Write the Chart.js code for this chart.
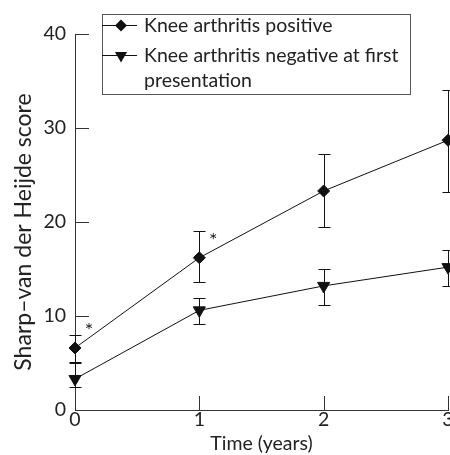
<!DOCTYPE html>
<html>
<head>
<meta charset="utf-8">
<script src="https://cdn.jsdelivr.net/npm/chart.js@4"></script>
<style>
  html, body { margin: 0; padding: 0; background: #fff; }
  #wrap { width: 450px; height: 455px; }
</style>
</head>
<body>
<div id="wrap"><canvas id="chart" width="450" height="455"></canvas></div>
<script>
const years = [0, 1, 2, 3];
const posMean = [6.6, 16.2, 23.3, 28.7];
const posLow = [5.1, 13.6, 19.5, 23.2];
const posHigh = [8.0, 19.0, 27.2, 34.0];
const negMean = [3.3, 10.6, 13.2, 15.2];
const negLow = [2.5, 9.2, 11.2, 13.2];
const negHigh = [5.0, 11.9, 15.0, 17.0];
const sigYears = [0, 1];
const yTicks = [0, 10, 20, 30, 40];
const seriesNames = ["Knee arthritis positive", ["Knee arthritis negative at first", "presentation"]];
const xTitle = "Time (years)";
const yTitle = "Sharp–van der Heijde score";

const FONT = "Lato";

// error bars, inner tick marks, x labels, asterisks, axis titles
const extras = {
  id: "extras",
  afterDatasetsDraw(chart) {
    const c = chart.ctx;
    const x = chart.scales.x, y = chart.scales.y;
    c.save();
    c.strokeStyle = "#111";
    c.lineWidth = 1;
    const bars = (lo, hi) => {
      years.forEach((yr, i) => {
        const px = Math.round(x.getPixelForValue(yr)) + 0.5;
        const t = Math.round(y.getPixelForValue(hi[i])) + 0.5, b = Math.round(y.getPixelForValue(lo[i])) + 0.5;
        c.beginPath();
        c.moveTo(px, t); c.lineTo(px, b);
        c.moveTo(px - 6, t); c.lineTo(px + 6, t);
        c.moveTo(px - 6, b); c.lineTo(px + 6, b);
        c.stroke();
      });
    };
    bars(posLow, posHigh);
    bars(negLow, negHigh);

    // tick marks drawn inward
    c.strokeStyle = "#333";
    yTicks.slice(1).forEach(v => {
      const py = Math.round(y.getPixelForValue(v)) + 0.5;
      c.beginPath(); c.moveTo(x.left, py); c.lineTo(x.left + 14, py); c.stroke();
    });
    years.slice(1).forEach(v => {
      const px = Math.round(x.getPixelForValue(v)) + 0.5;
      c.beginPath(); c.moveTo(px, y.bottom); c.lineTo(px, y.bottom - 14); c.stroke();
    });

    c.fillStyle = "#222";
    c.textAlign = "center";
    c.textBaseline = "middle";
    c.font = "19.5px " + FONT;
    years.forEach(v => c.fillText(String(v), x.getPixelForValue(v), y.bottom + 10));
    c.fillText(xTitle, (x.left + x.right) / 2, y.bottom + 34);

    c.font = "20px " + FONT;
    sigYears.forEach(yr => {
      const i = years.indexOf(yr);
      c.fillText("*", x.getPixelForValue(yr) + 14, y.getPixelForValue(posMean[i]) - 17);
    });

    c.font = "23px " + FONT;
    c.translate(24, 232);
    c.rotate(-Math.PI / 2);
    c.fillText(yTitle, 0, 0);
    c.restore();
  },
  afterDraw(chart) {
    // legend box
    const c = chart.ctx;
    c.save();
    c.strokeStyle = "#555";
    c.lineWidth = 1;
    c.strokeRect(102.5, 14.5, 308, 80);
    const rows = [25, 55];
    chart.data.datasets.forEach((ds, i) => {
      const ry = rows[i] + 0.5;
      c.strokeStyle = "#111";
      c.fillStyle = "#111";
      c.beginPath(); c.moveTo(102, ry); c.lineTo(137, ry); c.stroke();
      Chart.helpers.drawPoint(c, { pointStyle: ds.pointStyle, radius: ds.pointRadius, rotation: ds.rotation || 0 }, 121, ry);
      c.fillStyle = "#222";
      c.font = "19.5px " + FONT;
      c.textBaseline = "middle";
      c.textAlign = "left";
      const lines = [].concat(seriesNames[i]);
      lines.forEach((t, k) => c.fillText(t, 144, rows[i] + 1 + k * 25));
    });
    c.restore();
  }
};

new Chart(document.getElementById("chart"), {
  type: "line",
  data: {
    datasets: [
      {
        label: "Knee arthritis positive",
        data: years.map((yr, i) => ({ x: yr, y: posMean[i] })),
        borderColor: "#111", backgroundColor: "#111", borderWidth: 1, clip: false,
        pointStyle: "rectRot", pointRadius: 6, pointHoverRadius: 6
      },
      {
        label: "Knee arthritis negative at first presentation",
        data: years.map((yr, i) => ({ x: yr, y: negMean[i] })),
        borderColor: "#111", backgroundColor: "#111", borderWidth: 1, clip: false,
        pointStyle: "triangle", rotation: 180, pointRadius: 7, pointHoverRadius: 7
      }
    ]
  },
  options: {
    responsive: false,
    animation: false,
    events: [],
    layout: { autoPadding: false, padding: { top: 34, right: 2, left: 0, bottom: 0 } },
    plugins: { legend: { display: false }, tooltip: { enabled: false } },
    scales: {
      x: {
        type: "linear", min: 0, max: 3,
        afterFit(s) { s.height = 45; },
        grid: { display: false, drawTicks: false },
        border: { display: true, color: "#333", width: 1 },
        afterBuildTicks(s) { s.ticks = years.map(v => ({ value: v })); },
        ticks: { display: false },
        title: { display: false }
      },
      y: {
        min: 0, max: 40,
        afterFit(s) { s.width = 75; },
        grid: { display: false, drawTicks: false },
        border: { display: true, color: "#333", width: 1 },
        afterBuildTicks(s) { s.ticks = yTicks.map(v => ({ value: v })); },
        ticks: { color: "#222", font: { family: FONT, size: 19.5 }, padding: 9 },
        title: { display: false }
      }
    }
  },
  plugins: [extras]
});
</script>
</body>
</html>
